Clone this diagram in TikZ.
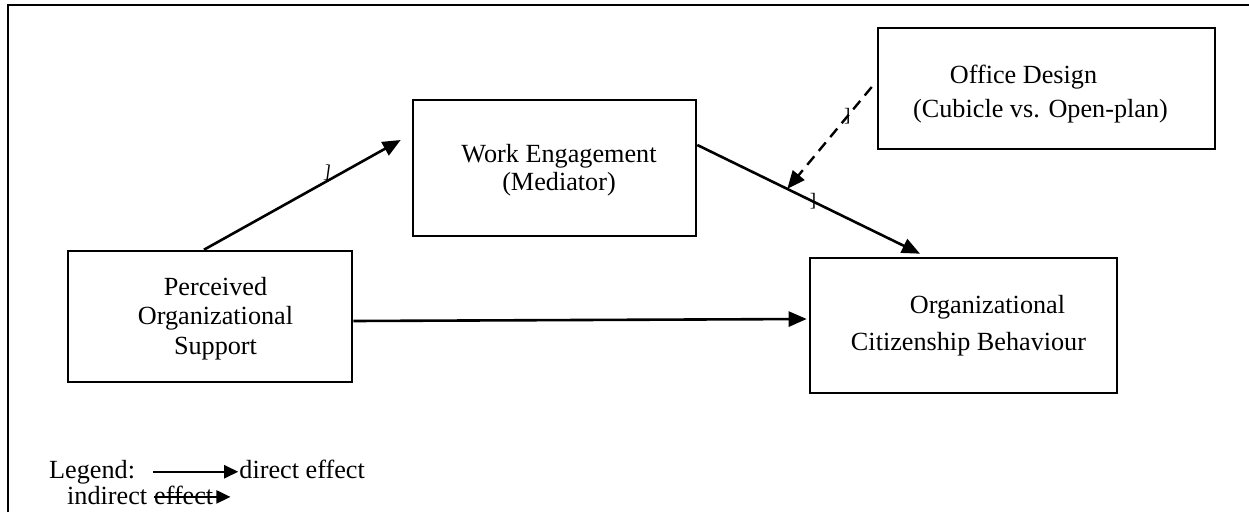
\documentclass[tikz,border=0pt]{standalone}
\usepackage{fontspec}
\setmainfont{Liberation Serif}
\usetikzlibrary{positioning}
\usetikzlibrary{arrows.meta}

\begin{document}
\begin{tikzpicture}[x=1pt,y=-1pt,
  box/.style={draw,line width=2.6pt,on grid,inner sep=0pt},
  txt/.style={font=\fontsize{26.2}{29.5}\selectfont,align=center,inner sep=0pt},
  effect/.style={line width=2.6pt,-{Triangle[length=18pt,width=15pt]}},
  moder/.style={effect,line width=2.4pt,dash pattern=on 11pt off 7pt},
  legarr/.style={line width=2pt,-{Triangle[length=14pt,width=13pt]}},
  tickmark/.style={font=\fontsize{19}{19}\selectfont,inner sep=0pt}]
  \useasboundingbox (0,0) rectangle (1249,512);
  \draw[line width=2.6pt] (8,512) -- (8,5) -- (1249,5);
  % boxes
  \node[box,minimum width=284pt,minimum height=131pt] (pos) at (210,316.5) {};
  \node[box,minimum width=283pt,minimum height=136pt] (we) [above right=148.5pt and 344.5pt of pos] {};
  \node[box,minimum width=307pt,minimum height=135pt] (ocb) [below right=157.5pt and 409pt of we] {};
  \node[box,minimum width=337pt,minimum height=121pt] (od) [above right=79.5pt and 492pt of we] {};
  \node[txt] (posl) at ([xshift=5.5pt,yshift=-2pt]pos.center) {Perceived\\Organizational\\Support};
  \node[txt] (wel) at ([xshift=4.5pt,yshift=-2pt]we.center) {Work Engagement\\[-1.5pt](Mediator)};
  \node[txt] (ocbl) at ([xshift=5pt]ocb.center) {\hspace*{38pt}Organizational\\[7.5pt]Citizenship Behaviour};
  \node[txt] (odl) at ([xshift=-6pt,yshift=-5.4pt]od.center) {Office Design\hspace*{34pt}\\[4.5pt](Cubicle vs. Open-plan)};
  % paths
  \draw[effect] ([xshift=-6pt]pos.north) -- node[tickmark,pos=.62,above,rotate=-8] (t1) {]} ([xshift=-11pt,yshift=28pt]we.west);
  \draw[effect] ([yshift=23pt]we.east) -- coordinate[pos=.404] (mod) node[tickmark,pos=.52] (t2) {]} ([xshift=-43.5pt,yshift=3pt]ocb.north);
  \draw[effect] ([yshift=-4.5pt]pos.east) -- ([xshift=-2pt,yshift=6.5pt]ocb.west);
  \draw[moder] ([xshift=-5pt,yshift=1.5pt]od.west) -- node[tickmark,pos=.29] (t3) {]} (mod);
  % legend
  \node[txt,anchor=base west] (leg) at (49,478) {Legend:};
  \node[txt,base right=104pt of leg] (dir) {direct effect};
  \draw[legarr,shorten <=18pt,shorten >=1pt] (leg.east) -- (leg.east -| dir.west);
  \node[txt,anchor=base west] (ind) at (67,504) {indirect};
  \node[txt,base right=6.5pt of ind] (eff) {effect};
  \draw[legarr] ([yshift=-2pt]eff.west) -- ([xshift=17pt,yshift=-2pt]eff.east);
\end{tikzpicture}
\end{document}
